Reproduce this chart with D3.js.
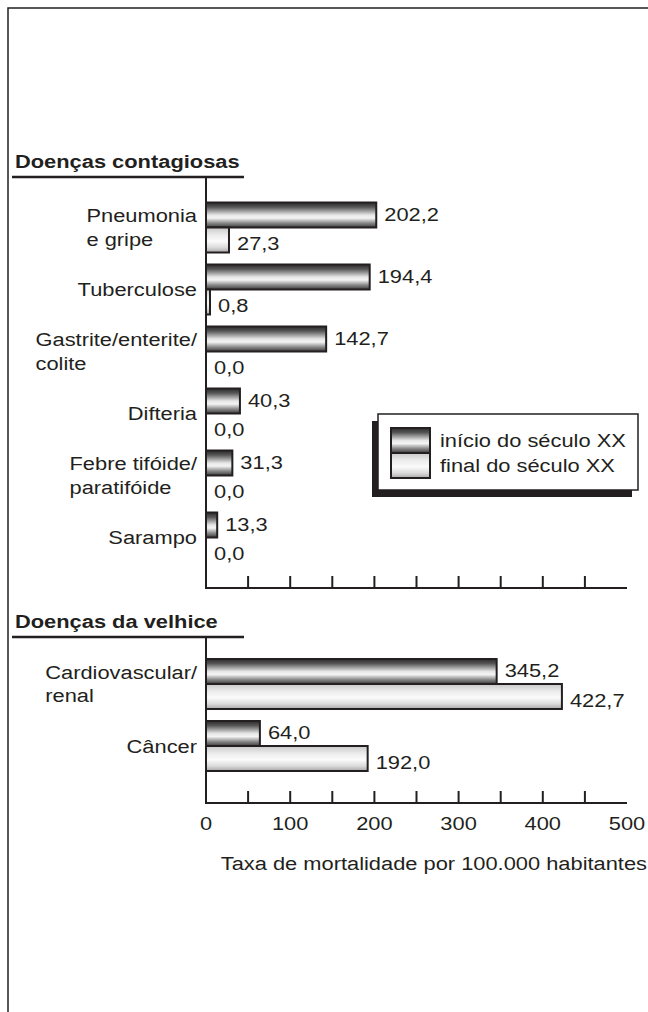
<!DOCTYPE html>
<meta charset="utf-8">
<style>
body { margin: 0; background: #fff; }
text { font-family: "Liberation Sans", Arial, sans-serif; font-size: 19px; fill: #231f20; }
.head { font-weight: bold; }
.bar { stroke: #231f20; stroke-width: 2px; }
.axis line { stroke: #231f20; stroke-width: 2px; }
</style>
<body>
<svg width="648" height="1012"></svg>
<script src="https://d3js.org/d3.v7.min.js"></script>
<script>

// data
var contagiosas = ["Pneumonia|e gripe", "Tuberculose", "Gastrite/enterite/|colite", "Difteria", "Febre tifóide/|paratifóide", "Sarampo"];
var contagInicio = [202.2, 194.4, 142.7, 40.3, 31.3, 13.3];
var contagFinal  = [27.3, 0.8, 0.0, 0.0, 0.0, 0.0];

var velhice = ["Cardiovascular/|renal", "Câncer"];
var velhInicio = [345.2, 64.0];
var velhFinal  = [422.7, 192.0];

var series = ["início do século XX", "final do século XX"];
var xTicks = [0, 100, 200, 300, 400, 500];
var xMinor = [50, 100, 150, 200, 250, 300, 350, 400, 450];
var xTitle = "Taxa de mortalidade por 100.000 habitantes";

var svg = d3.select("svg");
var SX = 1.15; // type in the original is set wide

var pt = d3.formatLocale({decimal: ",", thousands: ".", grouping: [3], currency: ["R$", ""]});
var fmt = pt.format(".1f");

// wide text helper
function wtext(sel, x, y, anchor) {
  return sel.append("text")
    .attr("text-anchor", anchor || "start")
    .attr("transform", "translate(" + x + "," + y + ") scale(" + SX + ",1)");
}

// gradients
var defs = svg.append("defs");
function grad(id, stops) {
  var g = defs.append("linearGradient").attr("id", id)
    .attr("x1", 0).attr("y1", 0).attr("x2", 0).attr("y2", 1);
  stops.forEach(function(s) {
    g.append("stop").attr("offset", s[0]).attr("stop-color", s[1]);
  });
}
grad("gDark", [[0, "#2b2b2b"], [0.18, "#555"], [0.5, "#e6e6e6"], [0.62, "#f4f4f4"], [0.82, "#8a8a8a"], [1, "#3a3a3a"]]);
grad("gLight", [[0, "#c8c8c8"], [0.3, "#ececec"], [0.55, "#fbfbfb"], [0.8, "#dadada"], [1, "#a8a8a8"]]);
var fills = ["url(#gDark)", "url(#gLight)"];

// frame
svg.append("path")
  .attr("d", "M8,1012V8H648")
  .attr("fill", "none").attr("stroke", "#231f20").attr("stroke-width", 1.5);

var x = d3.scaleLinear().domain([0, 500]).range([206, 627]);

function panel(cats, a, b, title, headY, top, bottom) {
  var g = svg.append("g");
  var rows = cats.map(function(c, i) { return {cat: c, vals: [a[i], b[i]]}; });

  wtext(g, 15, headY).attr("class", "head").text(title);
  g.append("line").attr("x1", 12).attr("x2", 244).attr("y1", headY + 9).attr("y2", headY + 9)
    .attr("stroke", "#231f20").attr("stroke-width", 2.5);

  var y = d3.scaleBand().domain(cats).range([top, top + cats.length * 62]);
  var ys = d3.scaleBand().domain([0, 1]).range([0, 50]);

  var grp = g.selectAll(".grp").data(rows).enter().append("g")
    .attr("transform", function(d) { return "translate(0," + y(d.cat) + ")"; });

  grp.selectAll("rect").data(function(d) { return d.vals.map(function(v, k) { return {v: v, k: k}; }); })
    .enter().filter(function(d) { return d.v > 0; }).append("rect")
    .attr("class", "bar")
    .attr("x", x(0))
    .attr("y", function(d) { return ys(d.k); })
    .attr("width", function(d) { return Math.max(x(d.v) - x(0), 4); })
    .attr("height", ys.bandwidth())
    .attr("fill", function(d) { return fills[d.k]; });

  grp.each(function(d) {
    var gg = d3.select(this);
    d.vals.forEach(function(v, k) {
      var xe = v > 0 ? Math.max(x(v), x(0) + 4) : x(0);
      wtext(gg, xe + 8, ys(k) + ys.bandwidth() / 2 + (k === 0 ? 5.5 : 10))
        .text(fmt(v));
    });

    // category label: lines left-aligned, block right-aligned to the axis
    var lines = d.cat.split("|");
    var c = 25 + 6.5 - (lines.length - 1) * 12;
    var t = wtext(gg, 0, c);
    lines.forEach(function(l, i) {
      t.append("tspan").attr("x", 0).attr("y", i * 24).text(l);
    });
    var w = d3.max(t.selectAll("tspan").nodes(), function(n) { return n.getComputedTextLength(); }) * SX;
    t.attr("transform", "translate(" + (197 - w) + "," + c + ") scale(" + SX + ",1)");
  });

  // axes
  var ax = g.append("g").attr("class", "axis");
  ax.append("line").attr("x1", x(0)).attr("x2", x(0)).attr("y1", headY + 9).attr("y2", bottom);
  ax.append("line").attr("x1", x(0) - 1).attr("x2", x(500)).attr("y1", bottom).attr("y2", bottom);
  ax.selectAll(".tk").data(xMinor).enter().append("line")
    .attr("x1", function(d) { return x(d); }).attr("x2", function(d) { return x(d); })
    .attr("y1", bottom - 12).attr("y2", bottom);
}

panel(contagiosas, contagInicio, contagFinal, "Doenças contagiosas", 168, 202.5, 588);
panel(velhice, velhInicio, velhFinal, "Doenças da velhice", 628, 659, 803);

// x tick labels
xTicks.forEach(function(d) {
  wtext(svg, x(d), 830, "middle").text(d);
});

wtext(svg, 647, 870, "end").text(xTitle);

// legend
var lg = svg.append("g").attr("transform", "translate(378,414)");
lg.append("rect").attr("x", -6).attr("y", 7).attr("width", 260).attr("height", 76).attr("fill", "#231f20");
lg.append("rect").attr("x", 0).attr("y", 0).attr("width", 260).attr("height", 76)
  .attr("fill", "#fff").attr("stroke", "#231f20").attr("stroke-width", 1.5);
series.forEach(function(s, i) {
  lg.append("rect").attr("class", "bar").attr("x", 13).attr("y", 14 + i * 25)
    .attr("width", 39).attr("height", 25).attr("fill", fills[i]);
  wtext(lg, 62, 33 + i * 25).text(s);
});

</script>
</body>
